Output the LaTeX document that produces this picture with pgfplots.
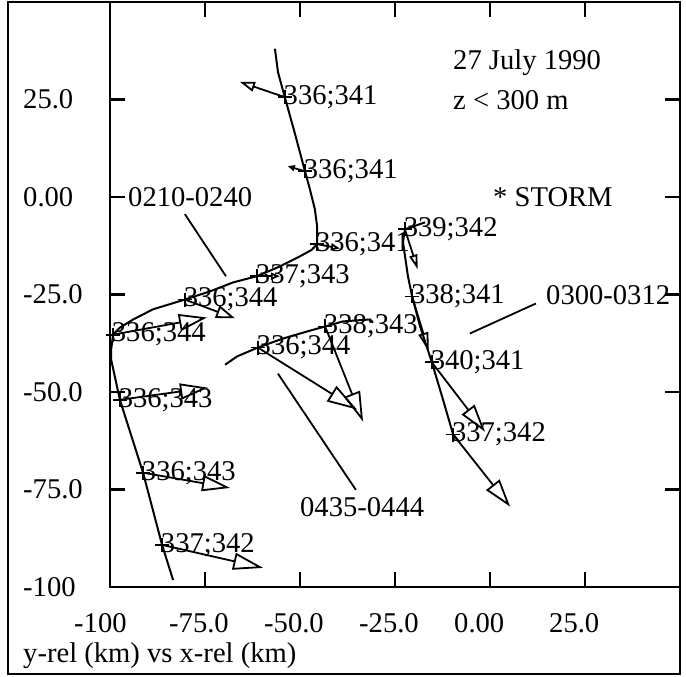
\documentclass[border=0pt]{standalone}
\usepackage{pgfplots}
\pgfplotsset{compat=1.18}
\usepackage{pgfplotstable}
\usepackage{fontspec}
\setmainfont{Liberation Serif}
\usetikzlibrary{arrows.meta}
\protected\def\semi{;}

\pgfplotstableread{
x y label
-54.0 25.6 336\semi341
-48.7 6.6 336\semi341
-45.5 -12.1 336\semi341
-61.3 -20.3 337\semi343
-80.3 -26.3 336\semi344
-99.2 -35.3 336\semi344
-97.4 -52.0 336\semi343
-91.3 -70.7 336\semi343
-86.3 -89.2 337\semi342
-22.4 -8.3 339\semi342
-20.5 -25.5 338\semi341
-15.3 -42.4 340\semi341
-9.7 -60.9 337\semi342
-61.1 -38.6 336\semi344
-43.4 -33.2 338\semi343
}\crosses

\tikzset{arr/.style 2 args={-{Triangle[open,length=#1,width=#2]}, line width=1.8pt, black}}

\begin{document}
\begin{tikzpicture}[font=\fontsize{28.6pt}{34pt}\selectfont]
\begin{axis}[
 scale only axis, width=570pt, height=585pt,
 xmin=-100, xmax=50, ymin=-100, ymax=50,
 axis line style={line width=2.2pt},
 tick style={line width=2.2pt, black},
 major tick length=15pt,
 tick align=inside,
 xtick={-100,-75,-50,-25,0,25},
 xticklabels={-100,-75.0,-50.0,-25.0,0.00,25.0},
 ytick={-100,-75,-50,-25,0,25},
 yticklabels={-100,-75.0,-50.0,-25.0,0.00,25.0},
 xticklabel style={anchor=north west, inner sep=0pt, xshift=-36pt, yshift=-26pt},
 yticklabel style={anchor=west, inner sep=0pt, xshift=-87pt},
 clip=false,
]
% trajectory 0210-0240
\addplot[black, line width=2pt, no marks] coordinates {
(-56.6,38.0) (-55.8,32.0) (-54.0,25.6) (-51.3,16.1) (-48.7,6.6) (-47.4,2.0) (-46.1,-3.1) (-45.5,-7.5) (-45.5,-12.1) (-47.0,-13.6) (-50.0,-15.2) (-55.3,-17.8) (-61.3,-20.3) (-67.6,-21.9) (-73.7,-24.2) (-80.3,-26.3) (-88.7,-28.8) (-93.9,-31.4) (-97.4,-33.5) (-99.2,-35.3) (-99.7,-39.1) (-99.7,-41.7) (-97.4,-52.0) (-91.3,-70.7) (-86.3,-89.2) (-83.4,-98.2)
};
% trajectory 0300-0312
\addplot[black, line width=2pt, no marks] coordinates {
(-17.1,-6.5) (-22.4,-8.3) (-22.9,-11.6) (-21.6,-20.3) (-20.5,-25.5) (-18.4,-33.2) (-15.3,-42.4) (-12.6,-51.2) (-9.7,-60.9) (-7.9,-63.0)
};
% trajectory 0435-0444
\addplot[black, line width=2pt, no marks] coordinates {
(-69.7,-43.0) (-66.6,-40.9) (-61.1,-38.6) (-54.5,-36.3) (-48.2,-34.5) (-43.4,-33.2) (-38.7,-31.9) (-31.6,-31.4) (-30.8,-32.2)
};
% wind arrows
\addplot[arr={15pt}{10pt}] coordinates {(-54.0,25.6) (-65.8,29.5)};
\addplot[arr={7pt}{6pt}] coordinates {(-48.7,6.6) (-53.2,7.9)};
\addplot[arr={9pt}{7pt}] coordinates {(-45.5,-12.1) (-39.5,-13.2)};
\addplot[arr={9pt}{7pt}] coordinates {(-61.3,-20.3) (-55.3,-20.3)};
\addplot[arr={19pt}{13pt}] coordinates {(-80.3,-26.3) (-67.1,-31.1)};
\addplot[arr={28pt}{17pt}] coordinates {(-99.2,-35.3) (-74.5,-30.9)};
\addplot[arr={28pt}{16pt}] coordinates {(-97.4,-52.0) (-74.2,-48.9)};
\addplot[arr={28pt}{16pt}] coordinates {(-91.3,-70.7) (-68.4,-74.6)};
\addplot[arr={30pt}{17pt}] coordinates {(-86.3,-89.2) (-59.7,-95.1)};
\addplot[arr={15pt}{8pt}] coordinates {(-22.4,-8.3) (-19.0,-18.6)};
\addplot[arr={19pt}{10pt}] coordinates {(-20.5,-25.5) (-16.1,-39.6)};
\addplot[arr={28pt}{16pt}] coordinates {(-15.3,-42.4) (-1.3,-60.2)};
\addplot[arr={28pt}{17pt}] coordinates {(-9.7,-60.9) (5.3,-79.4)};
\addplot[arr={30pt}{18pt}] coordinates {(-61.1,-38.6) (-35.0,-54.5)};
\addplot[arr={30pt}{17pt}] coordinates {(-43.4,-33.2) (-33.4,-57.6)};
% crosses with labels
\addplot[only marks, mark=+, mark size=7pt, mark options={line width=1.8pt, black},
 nodes near coords, point meta=explicit symbolic,
 every node near coord/.append style={anchor=west, inner sep=0pt, xshift=-2pt, black}]
 table[x=x, y=y, meta=label] {\crosses};
% leader lines
\draw[line width=1.8pt] (axis cs:-80.3,-4.4) -- (axis cs:-69.5,-20.3);
\draw[line width=1.8pt] (axis cs:-5.3,-35.0) -- (axis cs:12.1,-27.3);
\draw[line width=1.8pt] (axis cs:-55.8,-45.3) -- (axis cs:-35.3,-75.1);
% texts
\node[anchor=base west, inner sep=0pt] at (rel axis cs:0.0316,0.6496) {0210-0240};
\node[anchor=base west, inner sep=0pt] at (rel axis cs:0.7649,0.4821) {0300-0312};
\node[anchor=base west, inner sep=0pt] at (rel axis cs:0.3333,0.1197) {0435-0444};
\node[anchor=base west, inner sep=0pt] at (rel axis cs:0.6018,0.8838) {27 July 1990};
\node[anchor=base west, inner sep=0pt] at (rel axis cs:0.6018,0.8154) {z < 300 m};
\node[anchor=base west, inner sep=0pt] at (rel axis cs:0.6719,0.6496) {* STORM};
\node[anchor=base west, inner sep=0pt] at (rel axis cs:-0.1526,-0.1282) {y-rel (km) vs x-rel (km)};
% outer frame and bounding box
\draw[line width=2.2pt] (rel axis cs:-0.179,-0.149) rectangle (rel axis cs:1,1);
\path (rel axis cs:-0.193,-0.1538) rectangle (rel axis cs:1.0105,1.0034);
\end{axis}
\end{tikzpicture}
\end{document}
